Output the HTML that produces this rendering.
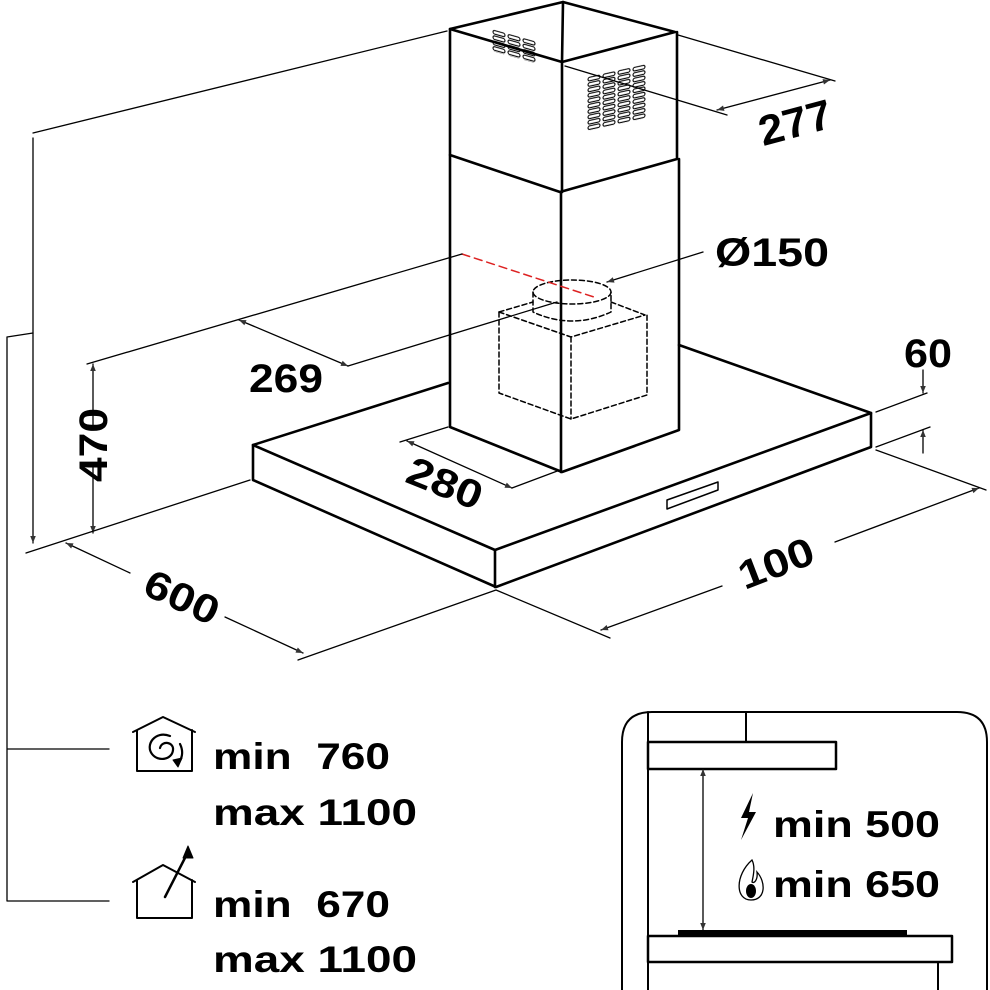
<!DOCTYPE html>
<html><head><meta charset="utf-8"><style>
html,body{margin:0;padding:0;background:#fff}
svg{display:block}
text{font-family:"Liberation Sans",sans-serif;font-weight:bold;fill:#000}
</style></head><body>
<svg width="990" height="990" viewBox="0 0 990 990" xmlns="http://www.w3.org/2000/svg">
<defs>
<marker id="a" viewBox="0 0 10 10" refX="10" refY="5" markerWidth="14" markerHeight="7" markerUnits="userSpaceOnUse" orient="auto-start-reverse">
<path d="M0,1 L10,5 L0,9 Z" fill="#333"/></marker>
<pattern id="sl" width="15" height="5.4" patternUnits="userSpaceOnUse">
<rect x="1" y="0.8" width="12" height="3.6" rx="1.8" fill="none" stroke="#000" stroke-width="1.1"/></pattern>
</defs>
<g fill="none" stroke="#000" stroke-linecap="round" stroke-linejoin="round">
<g stroke-width="2.6">
<path d="M450,29 L563,2 L675,32 L562,62 Z"/>
<path d="M563,2 L562,62"/>
<path d="M450,29 V155 L560,192 L677,159 V32"/>
<path d="M562,62 V192"/>
<path d="M450,155 V427 L562,472 L679,430 V159"/>
<path d="M561,192 V472"/>
<path d="M448,383 L253,445 L495,550 L871,413 L679,345"/>
<path d="M253,445 V480 L496,587 L871,447 V413"/>
<path d="M495,550 V587"/>
</g>
<path d="M667,500 L718,482 L718,490 L667,509 Z" stroke-width="1.5"/>
<g transform="matrix(1,-0.22,0,1,587,77)"><rect x="0" y="0" width="60" height="54" fill="url(#sl)" stroke="none"/></g>
<g transform="matrix(1,0.28,0,1,492,29)"><rect x="0" y="0" width="45" height="22" fill="url(#sl)" stroke="none"/></g>
<g stroke-width="1.5" stroke-dasharray="5,3">
<path d="M499,312 V393 L571,419 L647,395 V315"/>
<path d="M499,312 L533,302 M611,302 L645,315 M499,312 L571,337 L645,315 M571,337 V419"/>
<ellipse cx="572" cy="292" rx="39" ry="12"/>
<path d="M533,292 V312 Q572,330 611,312 V292"/>
</g>
<path d="M462,254 L597,298" stroke="#d22" stroke-width="1.5" stroke-dasharray="8,5"/>
<g stroke-width="1.3">
<path d="M33,133 L447,31"/>
<path d="M33,138 V543" marker-end="url(#a)"/>
<path d="M7,337 L33,333 M7,337 V901 M7,749 H109 M7,901 H109"/>
<path d="M87,364 L462,254"/>
<path d="M93,425 V364" marker-end="url(#a)"/>
<path d="M93,466 V533" marker-end="url(#a)"/>
<path d="M26,553 L250,480"/>
<path d="M239,320 L348,366" marker-start="url(#a)" marker-end="url(#a)"/>
<path d="M348,366 L557,302"/>
<path d="M400,442 L448,427 M512,488 L560,470"/>
<path d="M407,441 L512,488" marker-start="url(#a)" marker-end="url(#a)"/>
<path d="M678,35 L835,81 M565,66 L727,115"/>
<path d="M717,110 L830,80" marker-start="url(#a)" marker-end="url(#a)"/>
<path d="M703,252 L607,282" marker-end="url(#a)"/>
<path d="M876,412 L927,393 M876,447 L930,427"/>
<path d="M923,370 V393" marker-end="url(#a)"/>
<path d="M923,453 V430" marker-end="url(#a)"/>
<path d="M496,590 L298,660 M496,590 L610,638 M876,450 L986,490"/>
<path d="M130,573 L66,543" marker-end="url(#a)"/>
<path d="M225,617 L303,653" marker-end="url(#a)"/>
<path d="M722,586 L601,630" marker-end="url(#a)"/>
<path d="M835,542 L979,488" marker-end="url(#a)"/>
</g>
<g stroke-width="2">
<path d="M133,732 L163,717 L195,732 M137,730 V771 H192 V730"/>
<path d="M133,882 L163,865 L195,882 M137,880 V918 H192 V880"/>
</g>
<path d="M170,736 C155,730 145,745 152,754 C158,762 172,760 173,750 C174,742 162,740 160,748 M180,744 C184,752 182,760 177,764" stroke-width="2.2"/>
<path d="M173,760 L178,767 L182,758 Z" fill="#000" stroke-width="1"/>
<path d="M165,897 L188,852" stroke-width="2.5"/>
<path d="M188,846 L183,858 L193,858 Z" fill="#000"/>
<path d="M622,990 V742 Q622,712 652,712 H957 Q987,712 987,742 V990" stroke-width="2"/>
<path d="M648,712 V990 M746,712 V742" stroke-width="2"/>
<rect x="648" y="742" width="188" height="27" stroke-width="2.5"/>
<rect x="648" y="936" width="304" height="26" stroke-width="2.5"/>
<path d="M938,962 V990" stroke-width="2"/>
<path d="M703,769 V930" stroke-width="1.3" marker-start="url(#a)" marker-end="url(#a)"/>
</g>
<rect x="678" y="930" width="229" height="6" fill="#000"/>
<path d="M753,793 L741,818 L748,818 L741,840 L756,812 L749,812 Z" fill="#000"/>
<path d="M752,860 C735,875 735,900 751,900 C766,900 766,882 757,872 C758,880 754,884 752,882 C754,873 755,866 752,860 Z" fill="none" stroke="#000" stroke-width="1.3"/>
<ellipse cx="751" cy="891" rx="5" ry="7" fill="#000"/>
<text x="213" y="769" font-size="37" textLength="177" lengthAdjust="spacingAndGlyphs" xml:space="preserve">min  760</text>
<text x="213" y="825" font-size="37" textLength="204" lengthAdjust="spacingAndGlyphs">max 1100</text>
<text x="213" y="917" font-size="37" textLength="177" lengthAdjust="spacingAndGlyphs" xml:space="preserve">min  670</text>
<text x="213" y="972" font-size="37" textLength="204" lengthAdjust="spacingAndGlyphs">max 1100</text>
<text x="773" y="837" font-size="37" textLength="167" lengthAdjust="spacingAndGlyphs">min 500</text>
<text x="773" y="897" font-size="37" textLength="167" lengthAdjust="spacingAndGlyphs">min 650</text>
<text x="715" y="266" font-size="40" textLength="114" lengthAdjust="spacingAndGlyphs">Ø150</text>
<text x="286" y="392" font-size="40" text-anchor="middle" textLength="74" lengthAdjust="spacingAndGlyphs">269</text>
<text x="928" y="367" font-size="40" text-anchor="middle" textLength="48" lengthAdjust="spacingAndGlyphs">60</text>
<text transform="translate(795,122) rotate(-15)" y="15" font-size="42" text-anchor="middle" textLength="74" lengthAdjust="spacingAndGlyphs">277</text>
<text transform="translate(107,445) rotate(-90)" y="0" font-size="40" text-anchor="middle" textLength="74" lengthAdjust="spacingAndGlyphs">470</text>
<text transform="translate(445,483) rotate(22)" y="14" font-size="40" text-anchor="middle" textLength="78" lengthAdjust="spacingAndGlyphs">280</text>
<text transform="translate(182,597) rotate(25)" y="14" font-size="40" text-anchor="middle" textLength="78" lengthAdjust="spacingAndGlyphs">600</text>
<text transform="translate(776,563) rotate(-21)" y="14" font-size="40" text-anchor="middle" textLength="78" lengthAdjust="spacingAndGlyphs">100</text>
</svg>
</body></html>
